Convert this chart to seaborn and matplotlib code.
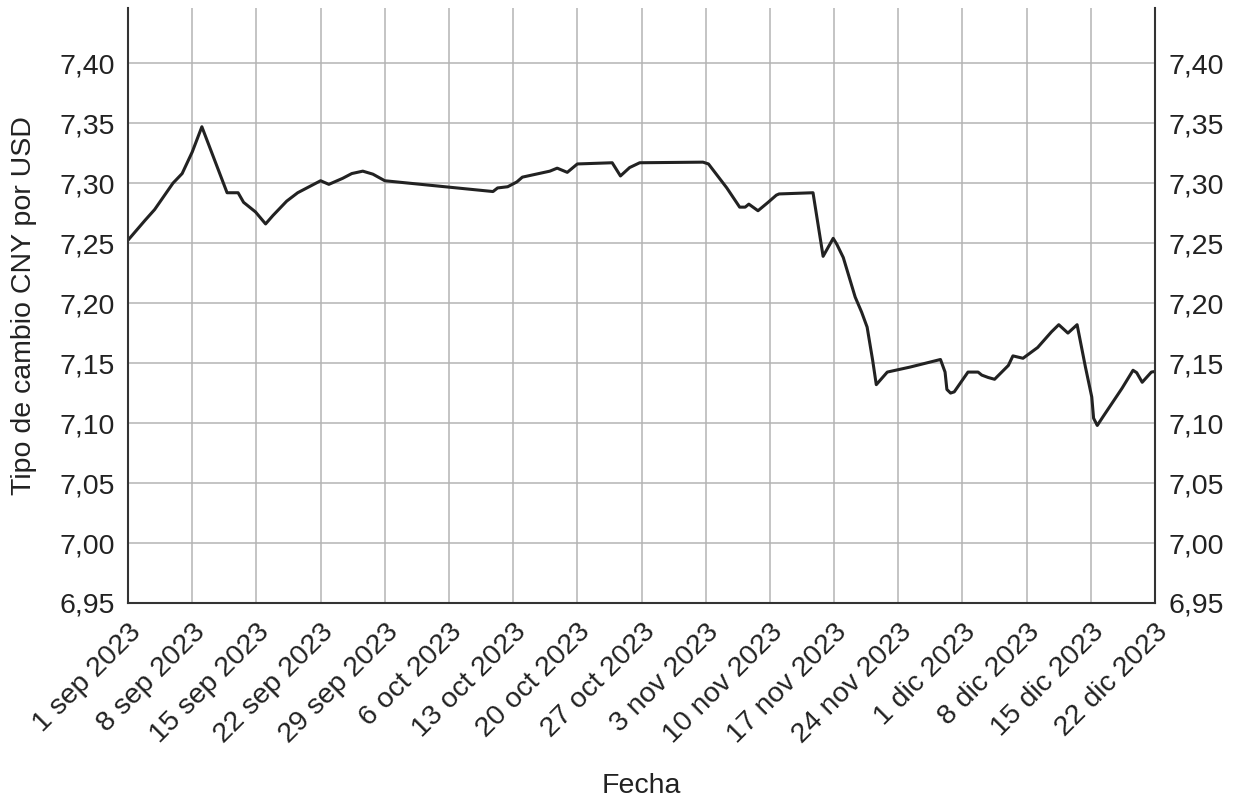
import numpy as np
import pandas as pd
import matplotlib
matplotlib.use('Agg')
import matplotlib.pyplot as plt
import seaborn as sns
from matplotlib.ticker import FuncFormatter

# days after 1 sep 2023, and CNY per USD
day_offset = [0, 1.85, 2.9, 4.9, 5.9, 7.0, 8.05, 10.8, 12.0, 12.6, 13.9, 15.0, 15.8,
              17.3, 18.5, 20.0, 21.0, 21.9, 23.4, 24.4, 25.6, 26.7, 28.0, 39.8, 40.3,
              41.4, 42.4, 43.0, 46.0, 46.8, 47.9, 49.0, 52.8, 53.7, 54.7, 55.8, 62.7,
              63.3, 64.0, 65.3, 66.7, 67.3, 67.7, 68.7, 69.8, 70.7, 71.0, 74.7, 75.8,
              76.9, 77.3, 78.0, 79.3, 80.0, 80.6, 81.2, 81.6, 82.8, 85.3, 88.6, 89.1,
              89.3, 89.7, 90.1, 91.6, 92.7, 93.1, 93.8, 94.5, 96.0, 96.5, 97.6, 99.2,
              100.7, 101.5, 102.5, 103.5, 104.4, 105.1, 105.3, 105.7, 106.3, 108.4,
              109.6, 110.0, 110.6, 111.6, 112.0]
rate = [7.2525, 7.269, 7.278, 7.300, 7.308, 7.326, 7.347, 7.292, 7.292, 7.284, 7.276,
        7.266, 7.273, 7.285, 7.292, 7.298, 7.302, 7.299, 7.304, 7.308, 7.310, 7.3075,
        7.302, 7.293, 7.296, 7.297, 7.301, 7.305, 7.310, 7.3125, 7.309, 7.316, 7.317,
        7.306, 7.313, 7.317, 7.3175, 7.316, 7.309, 7.296, 7.280, 7.280, 7.2825, 7.277,
        7.284, 7.290, 7.291, 7.292, 7.239, 7.254, 7.249, 7.238, 7.205, 7.1925, 7.180,
        7.1525, 7.132, 7.1425, 7.1467, 7.153, 7.1425, 7.128, 7.125, 7.126, 7.1425,
        7.1425, 7.140, 7.138, 7.1365, 7.148, 7.156, 7.154, 7.163, 7.176, 7.182, 7.175,
        7.182, 7.147, 7.1217, 7.104, 7.098, 7.105, 7.129, 7.144, 7.142, 7.134, 7.1425,
        7.143]

y_ticks = [6.95, 7.00, 7.05, 7.10, 7.15, 7.20, 7.25, 7.30, 7.35, 7.40]
meses = {9: 'sep', 10: 'oct', 11: 'nov', 12: 'dic'}

start = pd.Timestamp('2023-09-01')
df = pd.DataFrame({
    'Fecha': start + pd.to_timedelta(day_offset, unit='D'),
    'Tasa': rate,
})

sns.set_style('white')
plt.rcParams['font.family'] = ['Liberation Sans', 'DejaVu Sans']
plt.rcParams['text.color'] = '#222222'
plt.rcParams['xtick.color'] = '#222222'
plt.rcParams['ytick.color'] = '#222222'
plt.rcParams['axes.labelcolor'] = '#222222'

fig = plt.figure(figsize=(12.36, 8.01), dpi=100)
ax = fig.add_axes([0.1036, 0.2472, 0.8309, 0.7428])

sns.lineplot(data=df, x='Fecha', y='Tasa', ax=ax, color='#222222', linewidth=2.2)

tick_dates = pd.date_range('2023-09-01', '2023-12-22', freq='7D')
ax.set_xticks(tick_dates)
ax.set_xticklabels([f"{d.day} {meses[d.month]} {d.year}" for d in tick_dates],
                   rotation=45, ha='right', rotation_mode='anchor', fontsize=20.5)
ax.set_xlim(tick_dates[0], tick_dates[-1])

ax.set_yticks(y_ticks)
ax.yaxis.set_major_formatter(FuncFormatter(lambda v, p: f"{v:.2f}".replace('.', ',')))
ax.set_ylim(6.95, 7.446)
ax.tick_params(axis='y', labelsize=20.5, labelright=True, left=False, right=False, pad=6)
ax.tick_params(axis='x', bottom=False, pad=8)

ax.grid(True, color='#b4b4b4', linewidth=1.1)
for side in ['left', 'right', 'bottom']:
    ax.spines[side].set_color('#333333')
    ax.spines[side].set_linewidth(1.5)
ax.spines['top'].set_visible(False)

ax.set_xlabel('Fecha', fontsize=20.5)
ax.set_ylabel('Tipo de cambio CNY por USD', fontsize=20.5)
ax.xaxis.set_label_coords(0.5, -0.285)
ax.yaxis.set_label_coords(-0.089, 0.5)

fig.savefig('out.png', dpi=100)
plt.close(fig)
